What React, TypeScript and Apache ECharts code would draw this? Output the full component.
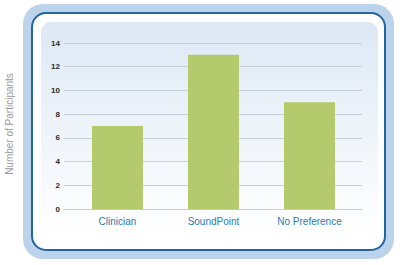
import React, { useEffect, useRef } from "react";
import * as echarts from "echarts";

const categories = ["Clinician", "SoundPoint", "No Preference"];
const participants = [7, 13, 9];
const yTicks = { min: 0, max: 14, interval: 2 };
const yTitle = "Number of Participants";

export default function App() {
  const ref = useRef<HTMLDivElement>(null);
  useEffect(() => {
    if (!ref.current) return;
    const chart = echarts.init(ref.current, null, { renderer: "svg" });
    chart.setOption({
      animation: false,
      backgroundColor: "#ffffff",
      graphic: [
        {
          type: "rect",
          z: -10,
          shape: { x: 23, y: 4, width: 371, height: 255, r: 20 },
          style: { fill: "#bcd3ec" },
        },
        {
          type: "rect",
          z: -9,
          shape: { x: 32, y: 13, width: 353, height: 237, r: 14 },
          style: { fill: "#ffffff", stroke: "#22669f", lineWidth: 2 },
        },
        {
          type: "rect",
          z: -8,
          shape: { x: 41, y: 22, width: 337, height: 212, r: 10 },
          style: {
            fill: new echarts.graphic.LinearGradient(0, 0, 0, 1, [
              { offset: 0, color: "#dde8f4" },
              { offset: 1, color: "#ffffff" },
            ]),
          },
        },
        {
          type: "text",
          x: 9,
          y: 124,
          rotation: Math.PI / 2,
          style: {
            text: yTitle,
            fill: "#9a9a9a",
            font: "10px 'Liberation Sans', Arial, sans-serif",
            align: "center",
            verticalAlign: "middle",
          },
        },
      ],
      grid: [
        { left: 64, right: 38, top: 43, bottom: 56 },
        { left: 69.5, width: 288, top: 43, bottom: 56 },
      ],
      xAxis: [
        { gridIndex: 0, type: "value", show: false, min: 0, max: 1 },
        {
          gridIndex: 1,
          type: "category",
          data: categories,
          axisLine: { show: false },
          axisTick: { show: false },
          axisLabel: {
            color: "#2b7ab3",
            fontSize: 10,
            fontFamily: "'Liberation Sans', Arial, sans-serif",
            margin: 7,
          },
        },
      ],
      yAxis: [
        {
          gridIndex: 0,
          type: "value",
          min: yTicks.min,
          max: yTicks.max,
          interval: yTicks.interval,
          axisLine: { show: false },
          axisTick: { show: false },
          axisLabel: {
            color: "#2a2a2a",
            fontSize: 8,
            fontWeight: "bold",
            fontFamily: "'Liberation Sans', Arial, sans-serif",
            margin: 4,
          },
          splitLine: { lineStyle: { color: "#c6ced9", width: 1 } },
        },
        {
          gridIndex: 1,
          type: "value",
          min: yTicks.min,
          max: yTicks.max,
          interval: yTicks.interval,
          show: false,
          splitLine: { show: false },
        },
      ],
      series: [
        {
          type: "bar",
          xAxisIndex: 1,
          yAxisIndex: 1,
          data: participants,
          barWidth: 51,
          itemStyle: { color: "#b4ca6c" },
        },
      ],
    });
    return () => chart.dispose();
  }, []);
  return (
    <div
      ref={ref}
      style={{ position: "fixed", left: 0, top: 0, width: 400, height: 265 }}
    />
  );
}
